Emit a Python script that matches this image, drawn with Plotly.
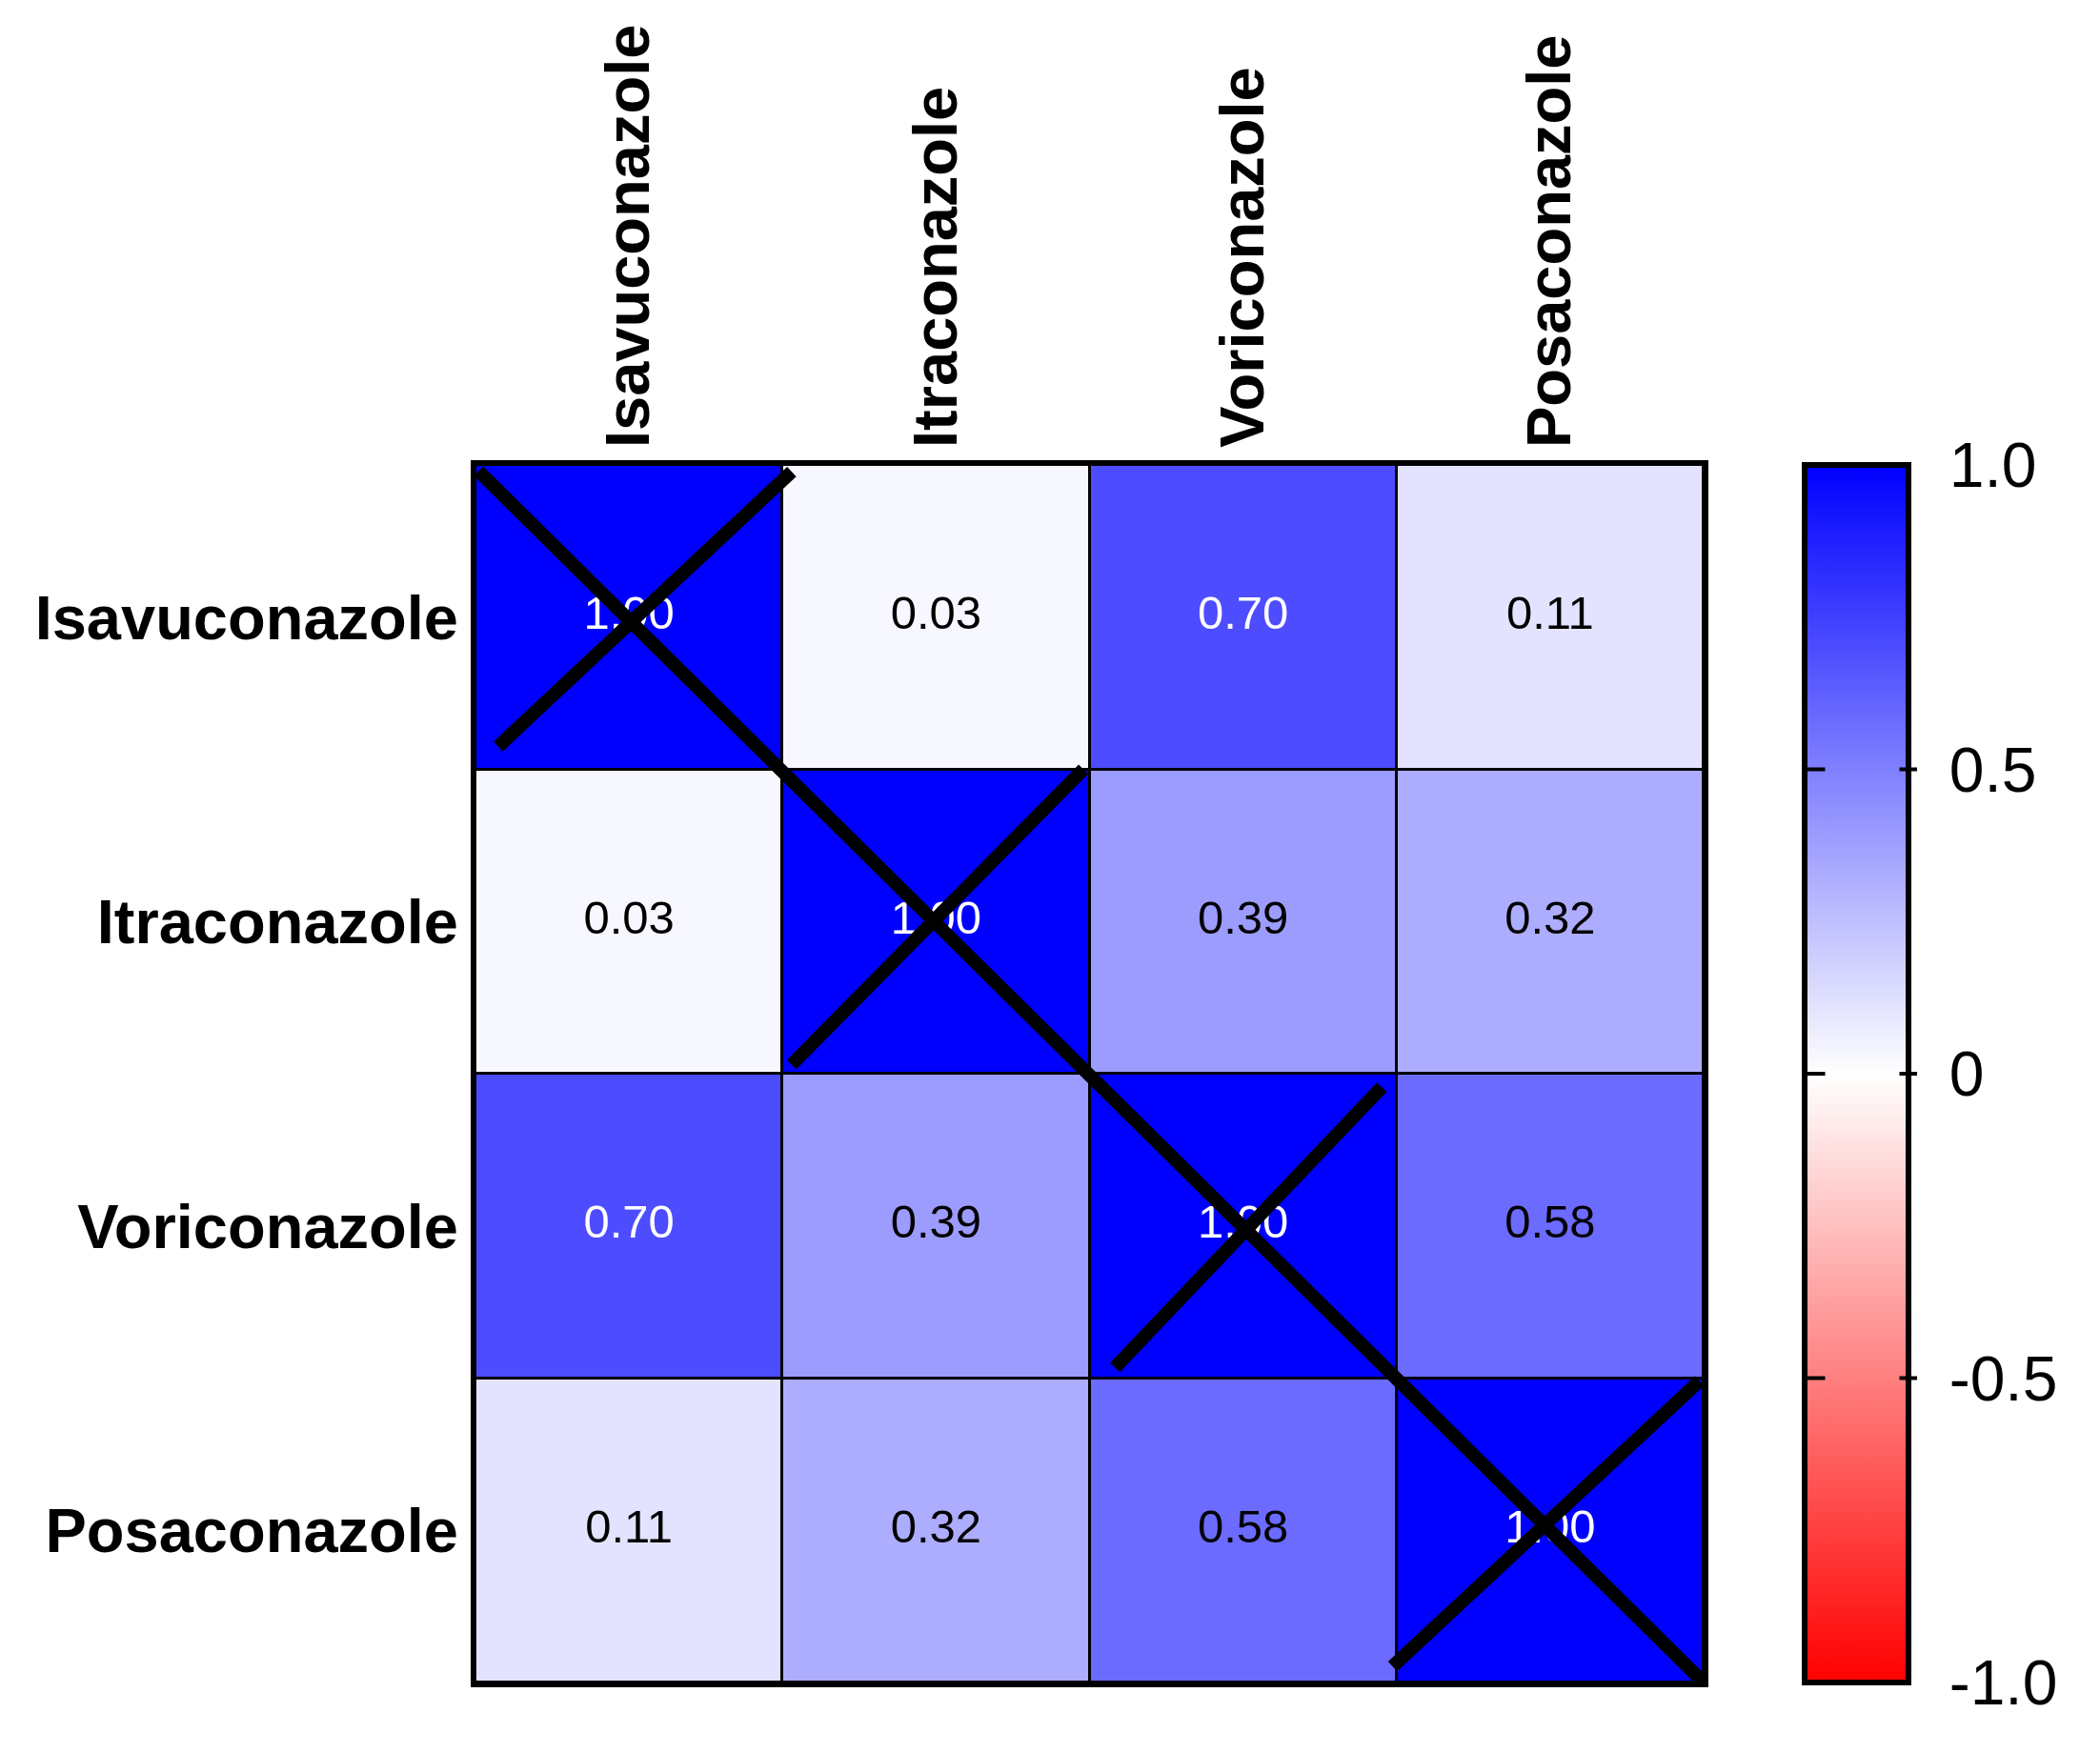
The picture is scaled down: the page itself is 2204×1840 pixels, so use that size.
import plotly.graph_objects as go

# ---- data ----
drugs = ["Isavuconazole", "Itraconazole", "Voriconazole", "Posaconazole"]
corr = [
    [1.00, 0.03, 0.70, 0.11],
    [0.03, 1.00, 0.39, 0.32],
    [0.70, 0.39, 1.00, 0.58],
    [0.11, 0.32, 0.58, 1.00],
]
cbar_vals = [1.0, 0.5, 0.0, -0.5, -1.0]
cbar_text = ["1.0", "0.5", "0", "-0.5", "-1.0"]

# ---- layout geometry (pixels) ----
W, H = 2204, 1840
ML, MR, MT, MB = 491, 424, 480, 82
PW = W - ML - MR
CB_LEFT = 1886
CB_THICK = 109
CB_OUT = 6
FONT = "Liberation Sans, Arial, sans-serif"

# hand-drawn cross strokes: small offsets (cell units) of the "/" stroke ends
cross_off = [
    (0.074, 0.075, 0.03, 0.022),
    (0.03, 0.03, -0.02, 0.0),
    (0.083, 0.035, -0.048, 0.044),
    (-0.013, 0.053, -0.013, 0.009),
]

fig = go.Figure()

fig.add_trace(go.Heatmap(
    z=corr, x=drugs, y=drugs,
    zmin=-1, zmax=1,
    colorscale=[[0, "#ff0000"], [0.5, "#ffffff"], [1, "#0000ff"]],
    xgap=3, ygap=3,
    hoverinfo="skip",
    colorbar=dict(
        x=(CB_LEFT - ML) / PW, xanchor="left", xpad=0,
        y=0.5, yanchor="middle", len=1, lenmode="fraction", ypad=0,
        thickness=CB_THICK, thicknessmode="pixels",
        outlinewidth=CB_OUT, outlinecolor="black",
        tickvals=cbar_vals, ticktext=cbar_text,
        ticks="outside", ticklen=27, tickcolor="rgba(0,0,0,0)",
        tickfont=dict(family=FONT, size=66, color="black"),
    ),
))

# cell value labels
xs, ys, txt, cols = [], [], [], []
for i, row in enumerate(corr):
    for j, v in enumerate(row):
        xs.append(drugs[j])
        ys.append(drugs[i])
        txt.append(f"{v:.2f}")
        cols.append("white" if v >= 0.65 else "black")
fig.add_trace(go.Scatter(
    x=xs, y=ys, mode="text", text=txt,
    textfont=dict(family=FONT, size=49, color=cols),
    hoverinfo="skip", showlegend=False,
))

shapes = []
n = len(drugs)
LW = 14
shapes.append(dict(type="line", xref="x", yref="y",
                   x0=-0.49, y0=-0.48, x1=n - 0.5, y1=n - 0.5,
                   line=dict(color="black", width=LW), layer="above"))
for k in range(n):
    a, b, c, d = cross_off[k]
    shapes.append(dict(type="line", xref="x", yref="y",
                       x0=k - 0.5 + a, y0=k + 0.5 - b,
                       x1=k + 0.5 + c, y1=k - 0.5 + d,
                       line=dict(color="black", width=LW), layer="above"))

# inner tick marks on both sides of the colour bar (annotation arrows, drawn on top)
annotations = []
x_left = (CB_LEFT + CB_OUT / 2 - ML) / PW
x_right = (CB_LEFT + CB_THICK + CB_OUT * 1.5 - ML) / PW
for v in cbar_vals[1:-1]:
    yy = (v + 1) / 2
    for xx, off in ((x_left, 20), (x_right, -20)):
        annotations.append(dict(
            xref="paper", yref="paper", x=xx, y=yy, text="",
            showarrow=True, arrowhead=0, arrowwidth=4, arrowcolor="black",
            ax=off, ay=0, axref="pixel", ayref="pixel", standoff=0,
        ))

axis_common = dict(
    type="category", categoryorder="array", categoryarray=drugs,
    showgrid=False, zeroline=False,
    showline=True, mirror=True, linewidth=5, linecolor="black",
    ticks="", ticklabelstandoff=0,
    tickfont=dict(family=FONT, size=65, color="black", weight="bold"),
)

fig.update_layout(
    width=W, height=H,
    margin=dict(l=ML, r=MR, t=MT, b=MB, autoexpand=False),
    paper_bgcolor="white", plot_bgcolor="black",
    showlegend=False,
    shapes=shapes,
    annotations=annotations,
    xaxis=dict(axis_common, side="top", tickangle=-90, range=[-0.5, n - 0.5]),
    yaxis=dict(axis_common, range=[n - 0.5, -0.5]),
)

fig.write_html("out.html")
